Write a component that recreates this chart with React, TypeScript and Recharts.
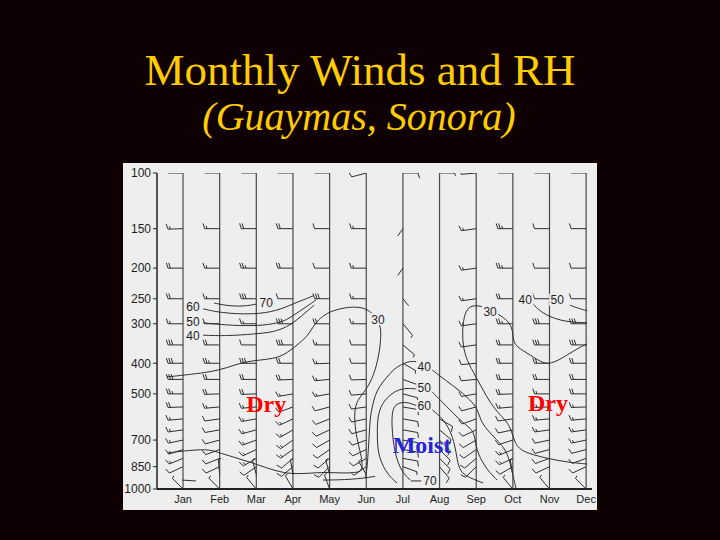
import React from 'react';
import { ComposedChart, Line, Scatter, XAxis, YAxis, ReferenceLine } from 'recharts';

const months = ['Jan', 'Feb', 'Mar', 'Apr', 'May', 'Jun', 'Jul', 'Aug', 'Sep', 'Oct', 'Nov', 'Dec'];
const monthTicks = [1, 2, 3, 4, 5, 6, 7, 8, 9, 10, 11, 12];
const pressureTicks = [100, 150, 200, 250, 300, 400, 500, 700, 850, 1000];
const barbLevels = [100, 150, 200, 250, 300, 350, 400, 450, 500, 550, 600, 650, 700, 750, 800, 850, 900, 950, 1000];

// wind direction (deg, blowing from) per month and level, null = no barb
const windDir = [
  [270, 268, 270, 270, 270, 270, 270, 270, 270, 268, 265, 262, 258, 252, 248, 245, null, null, 315],
  [270, 270, 270, 270, 270, 270, 270, 270, 268, 265, 262, 260, 255, 250, 248, 245, 355, null, 315],
  [270, 270, 270, 270, 270, 270, 270, 270, 268, 265, 260, 255, 250, 245, 240, 235, 345, null, 320],
  [270, 270, 270, 270, 270, 270, 270, 268, 260, 250, 245, 240, 235, 235, 230, 230, 350, null, 330],
  [270, 270, 270, 270, 270, 270, 268, 265, 260, 255, 248, 245, 240, 235, 230, 225, 345, null, 340],
  [255, 270, 270, 270, 270, 270, 270, 268, 265, 262, 258, 255, 250, 245, 240, 235, 330, null, null],
  [90, 215, 215, 140, 140, 130, 120, 110, 105, 100, 100, 100, 100, 100, 100, 110, null, null, null],
  [90, null, null, null, null, null, null, null, null, null, 120, 130, 135, 135, 135, 140, null, null, null],
  [265, 262, 262, 262, 262, 262, 265, 265, 260, 255, 250, 245, 240, 235, 230, 225, null, null, null],
  [270, 270, 270, 270, 270, 270, 270, 270, 268, 265, 262, 258, 252, 248, 245, 240, 350, null, 320],
  [270, 270, 270, 270, 270, 270, 270, 270, 270, 268, 265, 262, 258, 255, 250, 245, null, null, 320],
  [270, 270, 270, 270, 270, 270, 270, 270, 270, 268, 265, 262, 258, 255, 250, 245, null, null, 315],
];

// wind speed (kt) per month and level
const windKt = [
  [30, 15, 20, 20, 15, 30, 30, 30, 25, 20, 15, 15, 15, 15, 15, 10, null, null, 5],
  [35, 15, 15, 15, 10, 20, 25, 20, 20, 15, 10, 10, 10, 10, 10, 10, 5, null, 5],
  [10, 20, 25, 30, 15, 10, 30, 20, 20, 15, 15, 15, 15, 15, 15, 10, 5, null, 5],
  [30, 20, 20, 10, 30, 30, 20, 20, 15, 15, 15, 15, 15, 15, 10, 10, 5, null, 5],
  [20, 10, 10, 30, 20, 15, 15, 15, 15, 10, 10, 10, 10, 10, 10, 10, 5, null, 5],
  [10, 15, 15, 15, 15, 10, 10, 10, 10, 10, 10, 10, 10, 10, 10, 5, 5, null, null],
  [10, 0, 0, 0, 5, 5, 5, 10, 10, 10, 10, 10, 10, 10, 10, 5, null, null, null],
  [5, null, null, null, null, null, null, null, null, null, 10, 10, 10, 10, 10, 10, null, null, null],
  [5, 15, 15, 15, 15, 10, 10, 10, 10, 10, 10, 10, 10, 10, 10, 10, null, null, null],
  [20, 25, 25, 20, 25, 20, 20, 20, 20, 15, 10, 10, 10, 15, 15, 10, 5, null, 5],
  [20, 10, 10, 10, 30, 30, 20, 20, 15, 15, 15, 15, 10, 10, 10, 10, null, null, 5],
  [30, 10, 10, 10, 30, 30, 20, 20, 20, 15, 15, 15, 15, 10, 10, 10, null, null, 5],
];

// RH contours as [month, hPa]
const rh70West = [[1.85, 258], [2.28, 264], [2.69, 264], [2.99, 260]];
const rh60West = [[1.55, 269], [2.01, 277], [2.91, 281], [3.57, 273], [3.98, 260], [4.55, 245]];
const rh50West = [[1.55, 298], [2.2, 303], [2.91, 305], [3.46, 301], [3.84, 292], [4.11, 277], [4.39, 264], [4.63, 252]];
const rh40West = [[1.55, 326], [2.2, 328], [2.97, 323], [3.46, 319], [3.84, 307], [4.11, 292], [4.36, 275], [4.58, 262]];
const rh30West = [
  [0.56, 442], [1.27, 433], [1.74, 426], [2.2, 414], [2.64, 396], [3.1, 391], [3.57, 385], [3.84, 371],
  [4.19, 345], [4.41, 326], [4.55, 307], [4.68, 292], [4.93, 277], [5.29, 268], [5.75, 264], [6.1, 271],
  [6.38, 298], [6.41, 326], [6.35, 377], [6.21, 436], [6.0, 486], [5.75, 523], [5.67, 570], [5.7, 651],
  [5.8, 736], [5.89, 809], [5.89, 871], [5.75, 890], [5.2, 890], [4.82, 884], [4.19, 897], [3.73, 890],
  [3.29, 858], [2.83, 822], [2.37, 792], [1.93, 764], [1.66, 747], [1.0, 758], [0.59, 769],
];
const rh30East = [
  [12.03, 348], [11.84, 355], [11.48, 377], [11.02, 405], [10.75, 396], [10.39, 371], [10.01, 350],
  [10.01, 321], [9.93, 298], [9.65, 281], [9.19, 264], [8.92, 262], [8.75, 268], [8.64, 292], [8.62, 338],
  [8.7, 382], [8.92, 427], [9.16, 479], [9.38, 534], [9.65, 583], [9.87, 618], [9.98, 665], [10.06, 715],
  [10.2, 753], [10.55, 780], [11.02, 804], [11.48, 822], [12.03, 834],
];
const rh40East = [[10.53, 258], [10.75, 275], [11.1, 288], [11.48, 296], [12.03, 298]];
const rh50East = [[11.56, 262], [11.78, 268], [12.03, 273]];
const rh40Moist = [
  [5.97, 923], [6.02, 871], [6.05, 769], [6.08, 685], [6.1, 605], [6.16, 550], [6.24, 504], [6.38, 469],
  [6.57, 442], [6.73, 420], [6.92, 405], [7.2, 393], [7.39, 396],
];
const rh40MoistRight = [
  [7.8, 420], [8.15, 452], [8.56, 489], [8.83, 523], [9.03, 554], [9.11, 605], [9.3, 651], [9.57, 700],
  [9.73, 736], [9.84, 769], [9.93, 828], [10.01, 916], [10.09, 1000],
];
const rh50Moist = [
  [6.84, 957], [6.65, 916], [6.46, 852], [6.32, 769], [6.3, 685], [6.3, 605], [6.38, 550], [6.57, 512],
  [6.84, 486], [7.11, 479], [7.39, 483],
];
const rh50MoistRight = [
  [7.8, 493], [8.02, 523], [8.37, 575], [8.64, 618], [8.92, 651], [8.97, 700], [9.02, 753], [9.11, 798],
  [9.3, 871], [9.57, 937],
];
const rh60Moist = [
  [7.2, 937], [7.0, 890], [6.87, 828], [6.79, 769], [6.73, 700], [6.7, 636], [6.7, 562], [6.84, 534],
  [7.11, 530], [7.39, 546],
];
const rh60MoistRight = [[7.8, 562], [8.07, 596], [8.29, 651], [8.42, 726], [8.48, 809], [8.56, 884], [8.83, 923], [9.19, 957]];
const rh70Moist = [[7.22, 943], [7.5, 943]];
const nearSurfaceJan = [[0.97, 937], [1.35, 943]];
const nearSurfaceJun = [[4.82, 937], [5.42, 935], [5.91, 925], [6.24, 912]];

// contour labels [month, hPa, text]
const contourLabels: [number, number, string][] = [
  [1.27, 265, '60'], [1.27, 296, '50'], [1.27, 326, '40'], [3.27, 256, '70'], [6.32, 290, '30'],
  [7.58, 411, '40'], [7.58, 479, '50'], [7.58, 546, '60'], [7.74, 943, '70'],
  [9.38, 275, '30'], [10.34, 252, '40'], [11.21, 252, '50'],
];
const dryLabels: [number, number, string][] = [[3.27, 538, 'Dry'], [10.96, 534, 'Dry']];
const moistLabels: [number, number, string][] = [[7.52, 726, 'Moist']];

const contours = [
  rh70West, rh60West, rh50West, rh40West, rh30West, rh30East, rh40East, rh50East,
  rh40Moist, rh40MoistRight, rh50Moist, rh50MoistRight, rh60Moist, rh60MoistRight, rh70Moist,
  nearSurfaceJan, nearSurfaceJun,
];

const PANEL = '#eeeeee';
const INK = '#2e2e2e';
const SANS = 'Liberation Sans, Arial, Helvetica, sans-serif';
const SERIF = 'Liberation Serif, Times New Roman, serif';

const toPts = (arr: number[][]) => arr.map(([m, p]) => ({ m, p }));
const toLabels = (arr: [number, number, string][]) => arr.map(([m, p, t]) => ({ m, p, t }));

const barbs = windDir.flatMap((row, i) =>
  barbLevels
    .map((p, j) => ({ m: i + 1, p, dir: row[j], kt: windKt[i][j] }))
    .filter((d) => d.dir !== null && d.kt !== null)
);

const Barb = (props: any) => {
  const { cx, cy, payload } = props;
  if (cx == null || cy == null) return null;
  const rad = (payload.dir * Math.PI) / 180;
  const ux = Math.sin(rad);
  const uy = -Math.cos(rad);
  const len = payload.kt === 0 ? 9 : 15;
  const tx = cx + ux * len;
  const ty = cy + uy * len;
  const a = (72 * Math.PI) / 180;
  const fx = ux * Math.cos(a) - uy * Math.sin(a);
  const fy = ux * Math.sin(a) + uy * Math.cos(a);
  let d = `M${cx},${cy}L${tx},${ty}`;
  let rest = payload.kt;
  let k = 0;
  while (rest >= 10) {
    const bx = tx - ux * k * 2.4;
    const by = ty - uy * k * 2.4;
    d += `M${bx},${by}l${fx * 5.5},${fy * 5.5}`;
    rest -= 10;
    k++;
  }
  if (rest >= 5) {
    const bx = tx - ux * k * 2.4;
    const by = ty - uy * k * 2.4;
    d += `M${bx},${by}l${fx * 3},${fy * 3}`;
  }
  return <path d={d} stroke={INK} strokeWidth={1} fill="none" />;
};

const ContourLabel = (props: any) => {
  const { cx, cy, payload } = props;
  if (cx == null || cy == null) return null;
  const w = payload.t.length * 7 + 2;
  return (
    <g>
      <rect x={cx - w / 2} y={cy - 6} width={w} height={12} fill={PANEL} />
      <text x={cx} y={cy + 4.5} textAnchor="middle" fontSize={12} fill="#1e1e1e" fontFamily={SANS}>
        {payload.t}
      </text>
    </g>
  );
};

const wordShape = (color: string) => (props: any) => {
  const { cx, cy, payload } = props;
  if (cx == null || cy == null) return null;
  return (
    <text x={cx} y={cy + 8} textAnchor="middle" fontSize={24} fontWeight="bold" fill={color} fontFamily={SERIF}>
      {payload.t}
    </text>
  );
};

export default function App() {
  return (
    <div style={{ position: 'absolute', left: 0, top: 0, width: 720, height: 540, background: '#0e0003', overflow: 'hidden' }}>
      <svg width={720} height={540} style={{ position: 'absolute', left: 0, top: 0 }}>
        <text x={360} y={85} textAnchor="middle" fontSize={45} fill="#ffcc00" fontFamily={SERIF}>
          Monthly Winds and RH
        </text>
        <text x={359} y={130} textAnchor="middle" fontSize={40} fontStyle="italic" fill="#ffcc00" fontFamily={SERIF}>
          (Guaymas, Sonora)
        </text>
      </svg>
      <div style={{ position: 'absolute', left: 123, top: 163, width: 474, height: 347, background: PANEL }}>
        <ComposedChart width={474} height={347} margin={{ top: 10, right: 5, bottom: 0, left: 0 }}>
          <XAxis
            type="number"
            dataKey="m"
            domain={[0.29, 12.16]}
            allowDataOverflow
            ticks={monthTicks}
            interval={0}
            tickFormatter={(v: number) => months[v - 1]}
            tickLine={false}
            tickSize={0}
            tickMargin={6}
            height={21}
            axisLine={{ stroke: '#222', strokeWidth: 2 }}
            tick={{ fontSize: 11, fill: '#1e1e1e', fontFamily: SANS }}
          />
          <YAxis
            type="number"
            dataKey="p"
            scale="log"
            domain={[100, 1000]}
            allowDataOverflow
            reversed
            ticks={pressureTicks}
            interval={0}
            width={34}
            tickSize={4}
            tickMargin={2}
            axisLine={{ stroke: '#222', strokeWidth: 1.5 }}
            tickLine={{ stroke: '#222' }}
            tick={{ fontSize: 12, fill: '#1e1e1e', fontFamily: SANS }}
          />
          {monthTicks.map((m) => (
            <ReferenceLine key={'staff' + m} x={m} stroke="#4a4a4a" strokeWidth={1.2} />
          ))}
          {contours.map((c, i) => (
            <Line
              key={'c' + i}
              data={toPts(c)}
              dataKey="p"
              type="basis"
              stroke={INK}
              strokeWidth={1}
              dot={false}
              activeDot={false}
              isAnimationActive={false}
            />
          ))}
          <Scatter data={barbs} shape={Barb} isAnimationActive={false} />
          <Scatter data={toLabels(contourLabels)} shape={ContourLabel} isAnimationActive={false} />
          <Scatter data={toLabels(dryLabels)} shape={wordShape('#ff0000')} isAnimationActive={false} />
          <Scatter data={toLabels(moistLabels)} shape={wordShape('#2626d9')} isAnimationActive={false} />
        </ComposedChart>
      </div>
    </div>
  );
}
